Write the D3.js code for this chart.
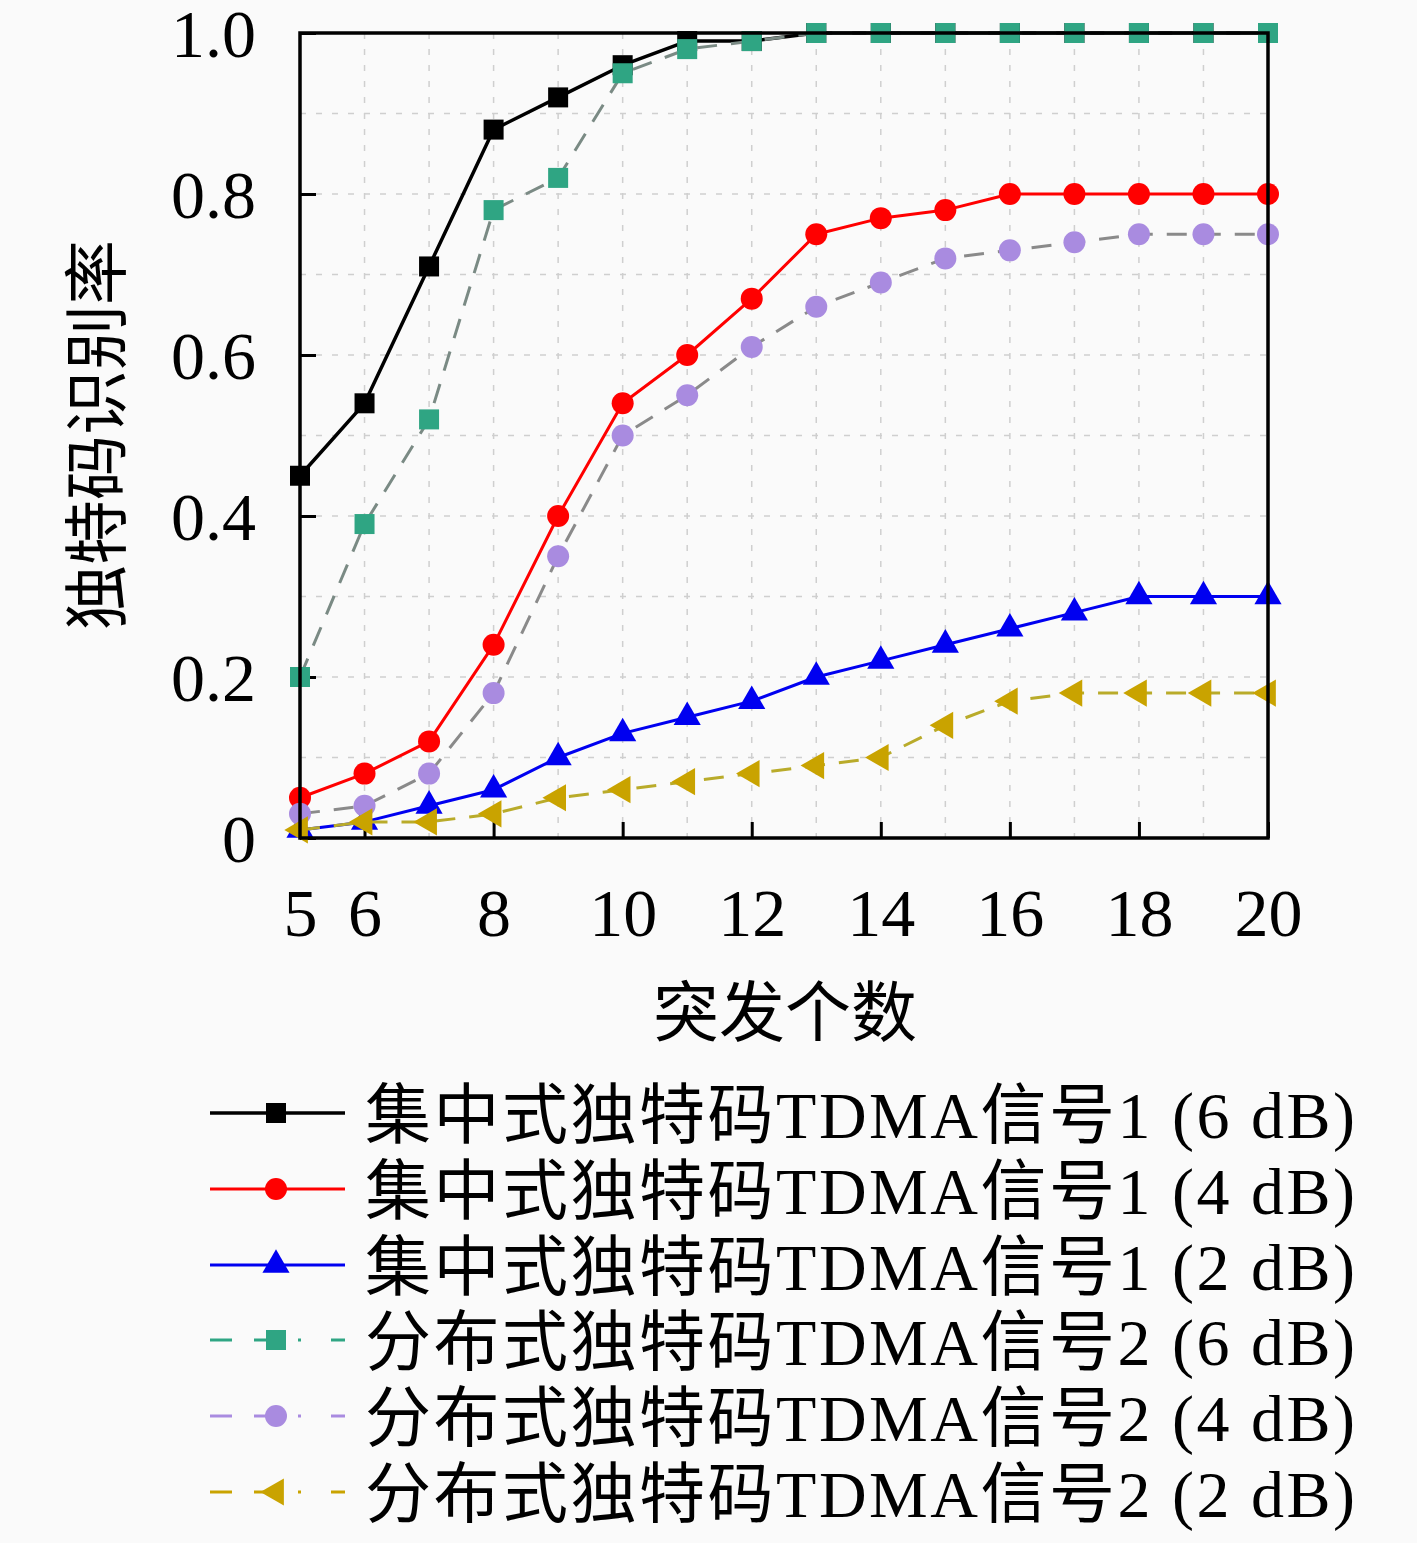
<!DOCTYPE html>
<html><head><meta charset="utf-8">
<script src="https://cdn.jsdelivr.net/npm/d3@7"></script>
<style>
html,body{margin:0;padding:0;background:#fafafa;}
svg{display:block;}
</style>
</head><body>
<svg id="chart" width="1417" height="1543"></svg>
<script>
const xValues = [5,6,7,8,9,10,11,12,13,14,15,16,17,18,19,20];
const central6 = [0.45,0.54,0.71,0.88,0.92,0.96,0.99,0.99,1.0,1.0,1.0,1.0,1.0,1.0,1.0,1.0];
const central4 = [0.05,0.08,0.12,0.24,0.40,0.54,0.60,0.67,0.75,0.77,0.78,0.80,0.80,0.80,0.80,0.80];
const central2 = [0.01,0.02,0.04,0.06,0.10,0.13,0.15,0.17,0.20,0.22,0.24,0.26,0.28,0.30,0.30,0.30];
const dist6 = [0.20,0.39,0.52,0.78,0.82,0.95,0.98,0.99,1.0,1.0,1.0,1.0,1.0,1.0,1.0,1.0];
const dist4 = [0.03,0.04,0.08,0.18,0.35,0.50,0.55,0.61,0.66,0.69,0.72,0.73,0.74,0.75,0.75,0.75];
const dist2 = [0.01,0.02,0.02,0.03,0.05,0.06,0.07,0.08,0.09,0.10,0.14,0.17,0.18,0.18,0.18,0.18];
const seriesNames = ["集中式独特码TDMA信号1 (6 dB)","集中式独特码TDMA信号1 (4 dB)","集中式独特码TDMA信号1 (2 dB)","分布式独特码TDMA信号2 (6 dB)","分布式独特码TDMA信号2 (4 dB)","分布式独特码TDMA信号2 (2 dB)"];
const xTicks = [5,6,8,10,12,14,16,18,20];
const yTicks = [0,0.2,0.4,0.6,0.8,1.0];
const yTickLabels = ["0","0.2","0.4","0.6","0.8","1.0"];
const xTitle = "突发个数";
const yTitle = "独特码识别率";

const styles = [
  {data: central6, line:"#000000", fill:"#000000", shape:"square", dash:null, w:3.5},
  {data: central4, line:"#ff0000", fill:"#ff0000", shape:"circle", dash:null, w:3},
  {data: central2, line:"#0000f0", fill:"#0000f0", shape:"triangle", dash:null, w:3},
  {data: dist6, line:"#7a8a84", fill:"#2fa583", shape:"square", dash:"20,14", w:3},
  {data: dist4, line:"#8a8a8a", fill:"#a98be0", shape:"circle", dash:"20,14", w:3},
  {data: dist2, line:"#b9ab2a", fill:"#c9a300", shape:"triangleLeft", dash:"20,14", w:3}
];

const svg = d3.select("#chart");
const L=300, R=1268, T=33, B=838;
const x = d3.scaleLinear().domain([5,20]).range([L,R]);
const y = d3.scaleLinear().domain([0,1]).range([B,T]);
const latin = "'Liberation Serif','DejaVu Serif',serif";
const cjk = "'Liberation Serif','Noto Sans CJK SC',serif";

// grid
const g = svg.append("g");
g.selectAll("line.vg").data(d3.range(6,20)).join("line")
  .attr("x1",d=>x(d)).attr("x2",d=>x(d)).attr("y1",T).attr("y2",B)
  .attr("stroke","#cfcfcf").attr("stroke-width",1.5).attr("stroke-dasharray","6,10");
g.selectAll("line.hg").data(d3.range(1,10).map(d=>d/10)).join("line")
  .attr("y1",d=>y(d)).attr("y2",d=>y(d)).attr("x1",L).attr("x2",R)
  .attr("stroke","#cfcfcf").attr("stroke-width",1.5).attr("stroke-dasharray","6,10");

// axes with inward ticks
const xAxis = d3.axisBottom(x).tickValues(xTicks).tickSize(-16).tickPadding(50).tickFormat(d3.format("d"));
const yAxis = d3.axisLeft(y).tickValues(yTicks).tickSize(-16).tickPadding(44).tickFormat((d,i)=>yTickLabels[i]);
const gx = svg.append("g").attr("transform",`translate(0,${B})`).call(xAxis);
const gy = svg.append("g").attr("transform",`translate(${L},0)`).call(yAxis);
[gx,gy].forEach(a=>{
  a.select(".domain").remove();
  a.selectAll(".tick line").attr("stroke","#000").attr("stroke-width",3);
  a.selectAll(".tick text").attr("font-family",latin).attr("font-size",68).attr("fill","#000");
});
gx.selectAll(".tick text").attr("dy","0.71em");
gy.selectAll(".tick text").attr("dy","0.34em");

// lines and markers
const line = d3.line().x((d,i)=>x(xValues[i])).y(d=>y(d));

function marker(sel, shape, fill){
  if(shape==="circle"){
    sel.append("circle").attr("r",11).attr("fill",fill);
  } else if(shape==="square"){
    sel.append("rect").attr("x",-10).attr("y",-10).attr("width",20).attr("height",20).attr("fill",fill);
  } else if(shape==="triangle"){
    sel.append("path").attr("d",d3.symbol().type(d3.symbolTriangle).size(320)()).attr("fill",fill);
  } else if(shape==="triangleLeft"){
    sel.append("path").attr("d",d3.symbol().type(d3.symbolTriangle).size(320)()).attr("transform","rotate(-90)").attr("fill",fill);
  }
}

const order = [0,1,2,3,4,5];
order.forEach(k=>{
  const s = styles[k];
  svg.append("path").datum(s.data).attr("d",line).attr("fill","none")
    .attr("stroke",s.line).attr("stroke-width",s.w)
    .attr("stroke-dasharray",s.dash).attr("stroke-linejoin","round");
  svg.append("g").selectAll("g").data(s.data).join("g")
    .attr("transform",(d,i)=>`translate(${x(xValues[i])},${y(d)})`)
    .each(function(){ marker(d3.select(this), s.shape, s.fill); });
});

// frame
svg.append("rect").attr("x",L).attr("y",T).attr("width",R-L).attr("height",B-T)
  .attr("fill","none").attr("stroke","#000").attr("stroke-width",3.5);

// titles
svg.append("text").attr("x",785).attr("y",1036).attr("text-anchor","middle")
  .attr("font-family",cjk).attr("font-size",66).text(xTitle);
svg.append("text").attr("transform","translate(120,435) rotate(-90)").attr("text-anchor","middle")
  .attr("font-family",cjk).attr("font-size",65).text(yTitle);

// legend
const legY = [1113,1189,1265,1340,1416,1492];
const leg = svg.append("g");
styles.forEach((s,i)=>{
  const row = leg.append("g").attr("transform",`translate(0,${legY[i]})`);
  row.append("line").attr("x1",210).attr("x2",345).attr("y1",0).attr("y2",0)
    .attr("stroke", s.dash? s.fill : s.line).attr("stroke-width",s.w)
    .attr("stroke-dasharray", s.dash? "22,22,22,22,3,30" : null);
  const m = row.append("g").attr("transform","translate(276,0)");
  marker(m, s.shape, s.fill);
  row.append("text").attr("x",365).attr("y",25).attr("font-family",cjk).attr("font-size",66)
    .attr("textLength",990).attr("lengthAdjust","spacing")
    .text(seriesNames[i]);
});
</script>
</body></html>
